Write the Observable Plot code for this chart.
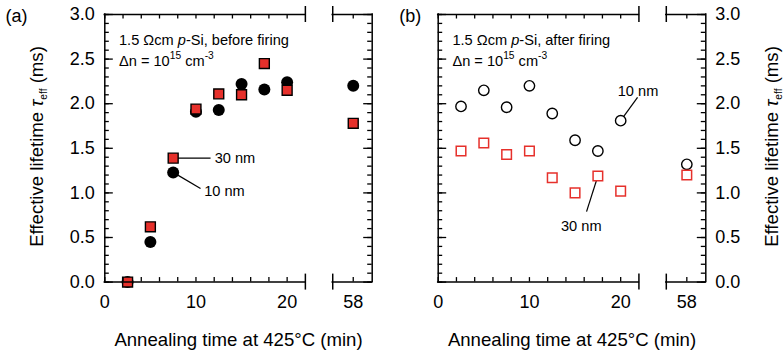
<!DOCTYPE html>
<html><head><meta charset="utf-8">
<script src="https://cdn.jsdelivr.net/npm/d3@7"></script>
<script src="https://cdn.jsdelivr.net/npm/@observablehq/plot@0.6"></script>
<style>
html,body{margin:0;padding:0;background:#fff;}
#chart{display:flex;width:784px;height:353px;overflow:hidden;}
</style></head><body><div id="chart"></div>
<script>
// ---- data ----
const times = [2.5, 5, 7.5, 10, 12.5, 15, 17.5, 20, 58];           // annealing time (min)
const beforeFiring10nm = [0.00, 0.45, 1.23, 1.91, 1.93, 2.22, 2.16, 2.24, 2.20]; // ms
const beforeFiring30nm = [0.00, 0.62, 1.39, 1.94, 2.11, 2.10, 2.45, 2.15, 1.78];
const afterFiring10nm  = [1.97, 2.15, 1.96, 2.20, 1.89, 1.59, 1.47, 1.81, 1.32];
const afterFiring30nm  = [1.47, 1.56, 1.43, 1.47, 1.17, 1.00, 1.19, 1.02, 1.20];
const xTickLabels = [0, 10, 20, 58];
const yTickLabels = [0, 0.5, 1.0, 1.5, 2.0, 2.5, 3.0];
const xLabel = "Annealing time at 425°C (min)";
const yLabel = "Effective lifetime τeff (ms)";
const notesA = ["1.5 Ωcm p-Si, before firing", "Δn = 1015 cm-3"];
const notesB = ["1.5 Ωcm p-Si, after firing", "Δn = 1015 cm-3"];

// ---- broken x axis: main segment 0–22, gap, second segment around 58 ----
const X58 = 27.25, XMAX = 29.33, BREAK_L = 22, BREAK_R = 25;
const brk = t => t > 40 ? t - 58 + X58 : t;
const RED = "#e6302b";
const FONT = '"Liberation Sans", Arial, Helvetica, sans-serif';

const xMinor = d3.range(0, 21, 2).concat([58]);
const yMinor = d3.range(0, 31).map(i => i / 10);
const yMajor = yTickLabels;

function panel({side, label, notes, s10, s30, filled, callouts, marginLeft, marginRight, labelDx}) {
  const left = side === "left";
  const pts10 = times.map((t, i) => ({t, v: s10[i]}));
  const pts30 = times.map((t, i) => ({t, v: s30[i]}));
  const axX = left ? 0 : XMAX;
  const yTick = (vals, len) => Plot.ruleY(vals, {y: d => d, x1: axX, x2: axX,
      ...(left ? {insetRight: -len} : {insetLeft: -len}), stroke: "black", strokeWidth: 1.3});
  const yTickOpp = (vals, len) => Plot.ruleY(vals, {y: d => d, x1: left ? XMAX : 0, x2: left ? XMAX : 0,
      ...(left ? {insetLeft: -len} : {insetRight: -len}), stroke: "black", strokeWidth: 1.3});
  return Plot.plot({
    width: 392, height: 353,
    marginTop: 14, marginBottom: 71.4, marginLeft, marginRight,
    x: {domain: [0, XMAX], axis: null},
    y: {domain: [0, 3], axis: null},
    style: {fontFamily: FONT, fontSize: "17px", background: "white", color: "black", overflow: "visible"},
    marks: [
      // callout lines
      ...callouts.map(c => Plot.link([c], {x1: d => brk(d.x1), y1: "y1", x2: d => brk(d.x2), y2: "y2", stroke: "black", strokeWidth: 1.2})),
      // data
      Plot.dot(pts10, {x: d => brk(d.t), y: "v", symbol: "circle", r: filled ? 6 : 5.2,
        fill: filled ? "black" : "white", stroke: "black", strokeWidth: filled ? 0 : 1.4}),
      Plot.dot(pts30, {x: d => brk(d.t), y: "v", symbol: "square", r: filled ? 5.6 : 5.4,
        fill: filled ? RED : "white", stroke: filled ? "black" : RED, strokeWidth: filled ? 1.4 : 1.5}),
      // frame
      Plot.ruleX([0, XMAX], {x: d => d, y1: 0, y2: 3, stroke: "black", strokeWidth: 1.5, strokeLinecap: "square"}),
      Plot.ruleY([0, 3], {y: d => d, x1: 0, x2: BREAK_L, stroke: "black", strokeWidth: 1.5, strokeLinecap: "square"}),
      Plot.ruleY([0, 3], {y: d => d, x1: BREAK_R, x2: XMAX, stroke: "black", strokeWidth: 1.5, strokeLinecap: "square"}),
      // break marks
      Plot.ruleX([BREAK_L, BREAK_R], {x: d => d, y1: 0, y2: 0, insetTop: -8, insetBottom: -8, stroke: "black", strokeWidth: 1.5}),
      Plot.ruleX([BREAK_L, BREAK_R], {x: d => d, y1: 3, y2: 3, insetTop: -8, insetBottom: -8, stroke: "black", strokeWidth: 1.5}),
      // x ticks (bottom & top, inward)
      Plot.ruleX(xMinor, {x: brk, y1: 0, y2: 0, insetTop: -4.5, stroke: "black", strokeWidth: 1.3}),
      Plot.ruleX(xMinor, {x: brk, y1: 3, y2: 3, insetBottom: -4.5, stroke: "black", strokeWidth: 1.3}),
      // y ticks (both sides, inward)
      yTick(yMinor, 4.5), yTick(yMajor, 8.5),
      yTickOpp(yMinor, 4.5), yTickOpp(yMajor, 8.5),
      // tick labels
      Plot.text(xTickLabels, {x: brk, y: 0, text: d => String(d), dy: 20.4, fontSize: 18, lineAnchor: "middle"}),
      Plot.text(yTickLabels, {x: axX, y: d => d, text: d => d.toFixed(1), textAnchor: left ? "end" : "start",
        dx: left ? -10 : 9.5, fontSize: 18, lineAnchor: "middle"}),
      // axis titles
      Plot.text([xLabel], {frameAnchor: "bottom", text: d => d, dy: 58.4, fontSize: 18.6, textAnchor: "middle", lineAnchor: "middle"}),
      Plot.text([yLabel], {frameAnchor: left ? "left" : "right", text: d => d, dx: left ? -67.3 : 66.7, dy: -1.8,
        rotate: -90, fontSize: 18.6, textAnchor: "middle", lineAnchor: "middle"}),
      // panel label
      Plot.text([label], {frameAnchor: "top-left", text: d => d, dx: labelDx, dy: 1.5, textAnchor: "start", lineAnchor: "middle", fontSize: 18}),
      // notes
      Plot.text([notes[0]], {frameAnchor: "top-left", text: d => d, dx: 14.2, dy: 25.5, textAnchor: "start", lineAnchor: "middle", fontSize: 14.6}),
      Plot.text([notes[1]], {frameAnchor: "top-left", text: d => d, dx: 14.2, dy: 46.5, textAnchor: "start", lineAnchor: "middle", fontSize: 14.6}),
      // callout labels
      ...callouts.map(c => Plot.text([c], {x: d => brk(d.tx), y: "ty", text: "label", textAnchor: c.anchor, lineAnchor: "middle", fontSize: 14.6}))
    ]
  });
}

const calloutsA = [
  {label: "30 nm", x1: times[2], y1: beforeFiring30nm[2], x2: 11.6, y2: beforeFiring30nm[2], tx: 12.05, ty: beforeFiring30nm[2], anchor: "start"},
  {label: "10 nm", x1: times[2], y1: beforeFiring10nm[2], x2: 10.5, y2: 1.05, tx: 10.9, ty: 1.02, anchor: "start"}
];
const calloutsB = [
  {label: "10 nm", x1: times[7], y1: afterFiring10nm[7], x2: 21.85, y2: 2.07, tx: 21.9, ty: 2.14, anchor: "middle"},
  {label: "30 nm", x1: times[6], y1: afterFiring30nm[6], x2: 16.26, y2: 0.79, tx: 15.68, ty: 0.63, anchor: "middle"}
];

const a = panel({side: "left", label: "(a)", notes: notesA, s10: beforeFiring10nm, s30: beforeFiring30nm,
  filled: true, callouts: calloutsA, marginLeft: 104.3, marginRight: 20.3, labelDx: -99.3});
const b = panel({side: "right", label: "(b)", notes: notesB, s10: afterFiring10nm, s30: afterFiring30nm,
  filled: false, callouts: calloutsB, marginLeft: 45.7, marginRight: 78.7, labelDx: -39});

// rich text (italic, superscripts, subscripts)
function rich(svg, original, parts) {
  d3.select(svg).selectAll("text").filter(function () { return this.textContent === original; }).each(function () {
    const t = d3.select(this);
    const fs = parseFloat(t.attr("font-size")) || parseFloat(getComputedStyle(this).fontSize) || 16;
    t.text(null);
    let shift = 0;
    for (const p of parts) {
      const ts = t.append("tspan").text(p.text);
      const target = p.sup ? -fs * 0.4 : p.sub ? fs * 0.25 : 0;
      if (target !== shift) ts.attr("dy", target - shift);
      shift = target;
      if (p.sup || p.sub) ts.attr("font-size", fs * 0.64);
      if (p.italic) ts.attr("font-style", "italic");
    }
  });
}
for (const svg of [a, b]) {
  rich(svg, notesA[0], [{text: "1.5 Ωcm "}, {text: "p", italic: true}, {text: "-Si, before firing"}]);
  rich(svg, notesB[0], [{text: "1.5 Ωcm "}, {text: "p", italic: true}, {text: "-Si, after firing"}]);
  rich(svg, notesA[1], [{text: "Δn = 10"}, {text: "15", sup: true}, {text: " cm"}, {text: "-3", sup: true}]);
  rich(svg, yLabel, [{text: "Effective lifetime "}, {text: "τ", italic: true}, {text: "eff", sub: true}, {text: " (ms)"}]);
}
document.getElementById("chart").append(a, b);
</script></body></html>
